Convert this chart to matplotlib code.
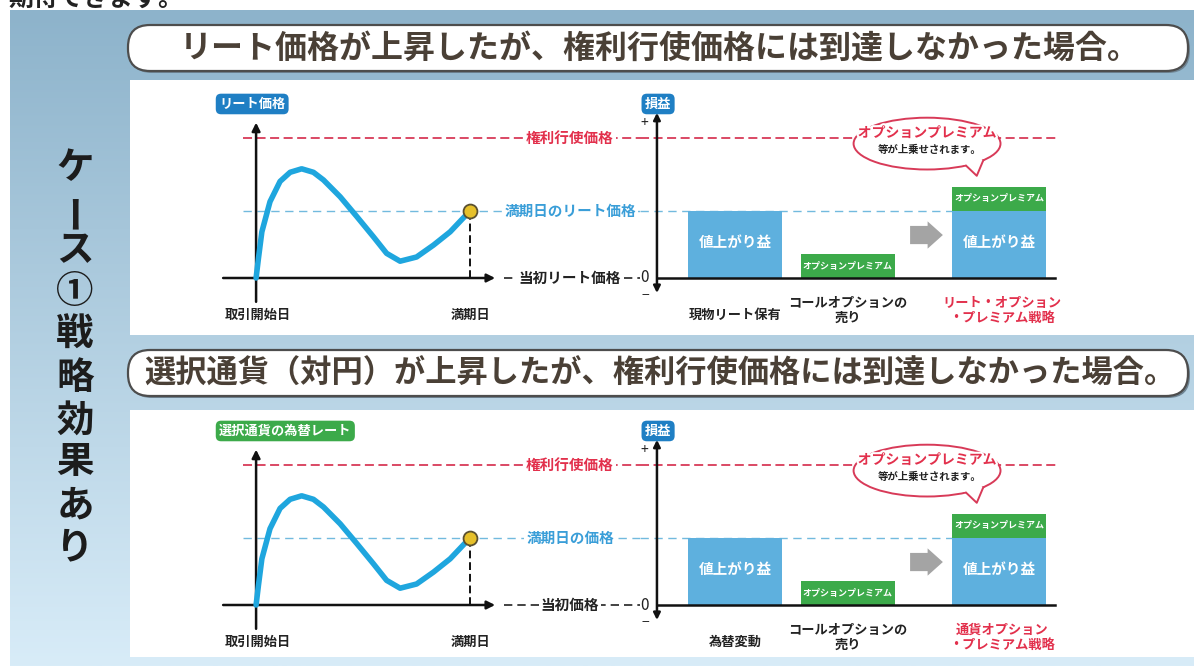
import numpy as np
import matplotlib
matplotlib.use("Agg")
import matplotlib.pyplot as plt
import matplotlib.patheffects as pe
from matplotlib.patches import Rectangle, FancyBboxPatch, Ellipse, Polygon, FancyArrow

plt.rcParams['font.family'] = ['Noto Sans CJK JP', 'DejaVu Sans']

# ---------------- data ----------------
curve_t = [0, 0.11, 0.27, 0.65, 1.12, 1.59, 2.13, 2.68, 3.15, 3.93, 4.70,
           5.48, 6.10, 6.73, 7.50, 8.29, 9.07, 10.0]
curve_v = [0, 14, 33, 54.5, 69, 75.5, 78, 75.5, 70, 58, 44,
           29.5, 17.6, 12, 15, 23.5, 33, 48]
initial_price = 0
strike_price = 100
maturity_t = 10
maturity_price = 48
gain_value = 48
premium_value = 17

header_text = "期待できます。"
side_chars = ["ケ", "ー", "ス", "①", "戦", "略", "効", "果", "あ", "り"]
panel_titles = ["リート価格が上昇したが、権利行使価格には到達しなかった場合。",
                "選択通貨（対円）が上昇したが、権利行使価格には到達しなかった場合。"]
price_labels = ["リート価格", "選択通貨の為替レート"]
strike_label = "権利行使価格"
maturity_labels = ["満期日のリート価格", "満期日の価格"]
initial_labels = ["当初リート価格", "当初価格"]
time_labels = ["取引開始日", "満期日"]
pl_label = "損益"
bar_categories = [["現物リート保有", "コールオプションの\n売り", "リート・オプション\n・プレミアム戦略"],
                  ["為替変動", "コールオプションの\n売り", "通貨オプション\n・プレミアム戦略"]]
gain_text = "値上がり益"
premium_text = "オプションプレミアム"
callout_lines = ["オプションプレミアム", "等が上乗せされます。"]

# ---------------- styles ----------------
W, H = 1194, 666
C_CURVE = "#1fa6de"
C_BLUE_BAR = "#5eb0de"
C_GREEN = "#3caa4a"
C_RED_LINE = "#d83a58"
C_RED_TXT = "#e2304c"
C_BLUE_TXT = "#3a9ed8"
C_BLUE_DASH = "#72bade"
C_BOX_BLUE = "#1f7fc4"

fig = plt.figure(figsize=(W / 100, H / 100), dpi=100)
fig.patch.set_facecolor("white")

bg = fig.add_axes([0, 0, 1, 1])
bg.set_xlim(0, W)
bg.set_ylim(H, 0)
bg.axis("off")

# gradient background
top = np.array([0x8d, 0xb3, 0xcb]) / 255
bot = np.array([0xd8, 0xec, 0xf8]) / 255
n = 256
frac = np.linspace(0, 1, n)[:, None]
grad = top[None, :] * (1 - frac) + bot[None, :] * frac
bg.imshow(grad[:, None, :], extent=(10, W, H, 10), aspect="auto", origin="upper", zorder=0)
bg.set_xlim(0, W)
bg.set_ylim(H, 0)

# header text (cut off at top edge, as in the reference)
bg.text(8, 11, header_text, fontsize=18, fontweight="bold", color="#222222",
        ha="left", va="bottom", zorder=3)

# white panels
bg.add_patch(Rectangle((130, 80), W - 130, 255, fc="white", ec="none", zorder=1))
bg.add_patch(Rectangle((130, 410), W - 130, 247, fc="white", ec="none", zorder=1))

# title pills
pill_y = [25, 350]
for k, py in enumerate(pill_y):
    bg.add_patch(FancyBboxPatch((130, py + 2), 1060, 46, boxstyle="round,pad=0,rounding_size=22",
                                fc="#6f8594", ec="none", zorder=1.5))
    bg.add_patch(FancyBboxPatch((128, py), 1060, 46, boxstyle="round,pad=0,rounding_size=22",
                                fc="white", ec="#4d4d4d", lw=1.6, zorder=2))
    bg.text(660, py + 24, panel_titles[k], fontsize=23 if k == 0 else 22.5, fontweight="bold",
            color="#4a4036", ha="center", va="center", zorder=3)

# vertical side text
side_y = [168, 210, 250, 291, 334, 377, 420, 462, 505, 547]
for ch, yy in zip(side_chars, side_y):
    rot = 90 if ch == "ー" else 0
    bg.text(75, yy, ch, fontsize=27, fontweight="bold", color="#1c1c1c",
            ha="center", va="center", rotation=rot, zorder=3)


def fr(x0, y0, x1, y1):
    return [x0 / W, 1 - y1 / H, (x1 - x0) / W, (y1 - y0) / H]


YLIM = (-25, 125)
bar_x = [0, 1, 2.34]
bar_w = 0.83
halo = [pe.withStroke(linewidth=3, foreground="white")]

for k, dy in enumerate([0, 327]):
    # ---------- line chart ----------
    lax = fig.add_axes(fr(215, 103 + dy, 640, 313 + dy))
    lax.set_xlim(-1.92, 17.94)
    lax.set_ylim(*YLIM)
    lax.axis("off")

    lax.plot([-0.6, 17.94], [strike_price] * 2, color=C_RED_LINE, lw=1.3, dashes=(5, 2.5), zorder=1)
    lax.plot([-0.6, 17.94], [maturity_price] * 2, color=C_BLUE_DASH, lw=1.0, dashes=(6, 4), zorder=1)
    lax.plot([11.6, 17.94], [initial_price] * 2, color="#222222", lw=1.2, dashes=(5, 3), zorder=1)

    lax.annotate("", xy=(0, 111), xytext=(0, -17),
                 arrowprops=dict(arrowstyle="-|>", lw=1.8, color="#111111", mutation_scale=12,
                                 shrinkA=0, shrinkB=0), zorder=2)
    lax.annotate("", xy=(11.17, initial_price), xytext=(-1.54, initial_price),
                 arrowprops=dict(arrowstyle="-|>", lw=1.8, color="#111111", mutation_scale=12,
                                 shrinkA=0, shrinkB=0), zorder=2)
    lax.plot([maturity_t, maturity_t], [initial_price, maturity_price], color="#111111",
             lw=1.4, dashes=(4, 2), zorder=2)
    lax.plot(curve_t, curve_v, color=C_CURVE, lw=4.0, solid_capstyle="round",
             solid_joinstyle="round", zorder=3)
    lax.plot([maturity_t], [maturity_price], "o", ms=10, mfc="#e6c02a", mec="#5a5030", mew=1.3, zorder=4)

    box = dict(boxstyle="square,pad=0.15", fc="white", ec="none")
    lax.text(14.67, strike_price, strike_label, color=C_RED_TXT, fontsize=10.5, fontweight="bold",
             ha="center", va="center", bbox=box, zorder=5)
    lax.text(14.67, maturity_price, maturity_labels[k], color=C_BLUE_TXT, fontsize=10.5,
             fontweight="bold", ha="center", va="center", bbox=box, zorder=5)
    lax.text(14.67, initial_price, initial_labels[k], color="#222222", fontsize=10.5,
             fontweight="bold", ha="center", va="center", bbox=box, zorder=5)

    lax.text(-1.73, 124.3, price_labels[k], color="white", fontsize=9.5, fontweight="bold",
             ha="left", va="center", zorder=5,
             bbox=dict(boxstyle="round,pad=0.25,rounding_size=0.4",
                       fc=C_BOX_BLUE if k == 0 else C_GREEN, ec="none"))
    lax.text(0.1, -26.4, time_labels[0], fontsize=9.5, fontweight="bold", color="#222222",
             ha="center", va="center")
    lax.text(maturity_t, -26.4, time_labels[1], fontsize=9.5, fontweight="bold", color="#222222",
             ha="center", va="center")

    # ---------- bar chart ----------
    bax = fig.add_axes(fr(640, 103 + dy, 1070, 313 + dy))
    bax.set_xlim(-0.84, 2.965)
    bax.set_ylim(*YLIM)
    bax.axis("off")

    bax.plot([-0.84, 2.85], [strike_price] * 2, color=C_RED_LINE, lw=1.3, dashes=(5, 2.5), zorder=1)
    bax.plot([-0.84, bar_x[2] - bar_w / 2], [maturity_price] * 2, color=C_BLUE_DASH, lw=1.0,
             dashes=(6, 4), zorder=1)

    bax.bar([bar_x[0]], [gain_value], width=bar_w, color=C_BLUE_BAR, zorder=2)
    bax.bar([bar_x[1]], [premium_value], width=bar_w, color=C_GREEN, zorder=2)
    bax.bar([bar_x[2]], [gain_value], width=bar_w, color=C_BLUE_BAR, zorder=2)
    bax.bar([bar_x[2]], [premium_value], bottom=[gain_value], width=bar_w, color=C_GREEN, zorder=2)

    for xx in (bar_x[0], bar_x[2]):
        bax.text(xx, gain_value / 2 + 1.5, gain_text, color="white", fontsize=10.5, fontweight="bold",
                 ha="center", va="center", zorder=3)
    bax.text(bar_x[1], premium_value / 2, premium_text, color="white", fontsize=6.5,
             fontweight="bold", ha="center", va="center", zorder=3)
    bax.text(bar_x[2], gain_value + premium_value / 2, premium_text, color="white", fontsize=6.5,
             fontweight="bold", ha="center", va="center", zorder=3)

    bax.plot([-0.69, 2.83], [0, 0], color="#111111", lw=1.8, zorder=4)
    bax.annotate("", xy=(-0.69, 118), xytext=(-0.69, -10.7),
                 arrowprops=dict(arrowstyle="<|-|>", lw=1.8, color="#111111", mutation_scale=10,
                                 shrinkA=0, shrinkB=0), zorder=4)
    bax.text(-0.80, 110.7, "+", fontsize=10, color="#222222", ha="center", va="center")
    bax.text(-0.79, -12.9, "−", fontsize=10, color="#222222", ha="center", va="center")
    bax.text(-0.80, 0, "0", fontsize=11, color="#222222", ha="center", va="center",
             bbox=dict(boxstyle="square,pad=0.05", fc="white", ec="none"), zorder=5)
    bax.text(-0.68, 124.3, pl_label, color="white", fontsize=9.5, fontweight="bold",
             ha="center", va="center", zorder=5,
             bbox=dict(boxstyle="round,pad=0.25,rounding_size=0.4", fc=C_BOX_BLUE, ec="none"))

    # gray arrow
    bax.add_patch(FancyArrow(1.55, 30.7, 0.29, 0, width=13, head_width=19.5, head_length=0.135,
                             length_includes_head=True, color="#a4a4a4", ec="none", zorder=3))

    # callout
    cx, cy, ew, eh = 1.70, 96.0, 1.30, 37.0
    bax.add_patch(Ellipse((cx, cy), ew, eh, fc="white", ec=C_RED_LINE, lw=1.4, zorder=6))
    angs = np.radians([58, 40])
    b1 = (cx + ew / 2 * np.cos(angs[0]), cy - eh / 2 * np.sin(angs[0]))
    b2 = (cx + ew / 2 * np.cos(angs[1]), cy - eh / 2 * np.sin(angs[1]))
    tip = (2.14, 73.0)
    inner1 = (cx + ew / 2 * 0.85 * np.cos(angs[0]), cy - eh / 2 * 0.85 * np.sin(angs[0]))
    inner2 = (cx + ew / 2 * 0.85 * np.cos(angs[1]), cy - eh / 2 * 0.85 * np.sin(angs[1]))
    bax.add_patch(Polygon([inner1, b1, tip, b2, inner2], closed=True, fc="white", ec="none", zorder=7))
    bax.plot([b1[0], tip[0], b2[0]], [b1[1], tip[1], b2[1]], color=C_RED_LINE, lw=1.4, zorder=8)
    bax.text(cx, 103.5, callout_lines[0], color=C_RED_TXT, fontsize=10, fontweight="bold",
             ha="center", va="center", zorder=9, path_effects=halo)
    bax.text(cx + 0.02, 91.5, callout_lines[1], color="#222222", fontsize=7.5, fontweight="bold",
             ha="center", va="center", zorder=9)

    # category labels
    for i, lab in enumerate(bar_categories[k]):
        col = C_RED_TXT if i == 2 else "#222222"
        yy = -22.9 if "\n" in lab else -26.4
        bax.text(bar_x[i] + (0.02 if i == 2 else 0), yy, lab, color=col, fontsize=9.5,
                 fontweight="bold", ha="center", va="center", linespacing=1.1)

fig.savefig("out.png", dpi=100)
